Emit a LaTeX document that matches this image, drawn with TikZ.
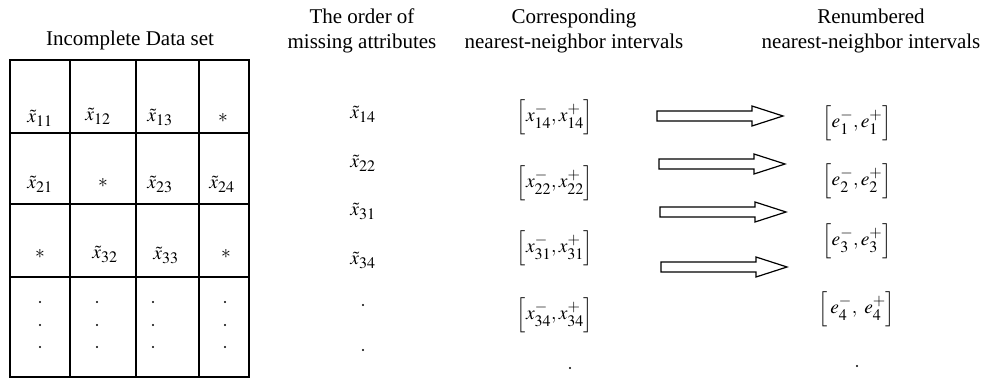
\documentclass[tikz,border=0pt]{standalone}
\usepackage{mathptmx}
\usepackage{fontspec}
\setmainfont{Liberation Serif}
\DeclareMathSizes{19.5}{19.5}{16}{13}
\newcommand{\ivl}[2]{\left[\rule[-10pt]{0pt}{32pt}#1,#2\right]}
\begin{document}
\begin{tikzpicture}[x=1pt,y=-1pt,
  every node/.style={inner sep=0pt,font=\fontsize{19.5}{23}\selectfont},
  hdr/.style={align=center,font=\fontsize{21}{25}\selectfont},
  grid/.style={line width=1.1pt},
  blk/.style={line width=1.2pt,line join=miter}]
\useasboundingbox (0,0) rectangle (987,387);
% table
\draw[grid] (10,60) rectangle (249,377);
\foreach \x in {70,136,199} \draw[grid] (\x,60) -- (\x,377);
\foreach \y in {133,204,277} \draw[grid] (10,\y) -- (249,\y);
\node[hdr] (t1) at (130,40) {Incomplete Data set};
\node (c11) at (40,118) {$\tilde{x}_{11}$};
\node (c12) at (98,116) {$\tilde{x}_{12}$};
\node (c13) at (160,117) {$\tilde{x}_{13}$};
\node (c14) at (223,118) {$*$};
\node (c21) at (40,184) {$\tilde{x}_{21}$};
\node (c22) at (103,183) {$*$};
\node (c23) at (160,184) {$\tilde{x}_{23}$};
\node (c24) at (222,184) {$\tilde{x}_{24}$};
\node (c31) at (40,254) {$*$};
\node (c32) at (105,254) {$\tilde{x}_{32}$};
\node (c33) at (166,255) {$\tilde{x}_{33}$};
\node (c34) at (226,254) {$*$};
\foreach \x in {40,97,153,225}{
  \foreach \y in {302,325,347} \fill (\x,\y) circle (1.1pt);
}
% column 2
\node[hdr] (t2) at (362,31) {The order of\\missing attributes};
\node (o1) at (363,114) {$\tilde{x}_{14}$};
\node (o2) at (363,163) {$\tilde{x}_{22}$};
\node (o3) at (363,211) {$\tilde{x}_{31}$};
\node (o4) at (363,260) {$\tilde{x}_{34}$};
\fill (363,305) circle (1.1pt);
\fill (363,350) circle (1.1pt);
% column 3
\node[hdr] (t3) at (574,31) {Corresponding\\nearest-neighbor intervals};
\node (i1) at (555,117) {$\ivl{x^{-}_{14}}{x^{+}_{14}}$};
\node (i2) at (555,183) {$\ivl{x^{-}_{22}}{x^{+}_{22}}$};
\node (i3) at (555,248) {$\ivl{x^{-}_{31}}{x^{+}_{31}}$};
\node (i4) at (555,315) {$\ivl{x^{-}_{34}}{x^{+}_{34}}$};
\fill (570,368) circle (1.1pt);
% column 4
\node[hdr] (t4) at (871,31) {Renumbered\\nearest-neighbor intervals};
\node (e1) at (857,123) {$\ivl{e^{-}_{1}}{e^{+}_{1}}$};
\node (e2) at (857,181) {$\ivl{e^{-}_{2}}{e^{+}_{2}}$};
\node (e3) at (857,241) {$\ivl{e^{-}_{3}}{e^{+}_{3}}$};
\node (e4) at (857,309) {$\ivl{\,e^{-}_{4}}{\ e^{+}_{4}}$};
\fill (857,366) circle (1.1pt);
% block arrows
\foreach \sx/\yy in {657/116,659/164,660/212,661/267}{
  \draw[blk] (\sx,\yy-5) -- (\sx+95,\yy-5) -- (\sx+95,\yy-10) -- (\sx+126,\yy)
    -- (\sx+95,\yy+10) -- (\sx+95,\yy+5) -- (\sx,\yy+5) -- cycle;
}
\end{tikzpicture}
\end{document}
